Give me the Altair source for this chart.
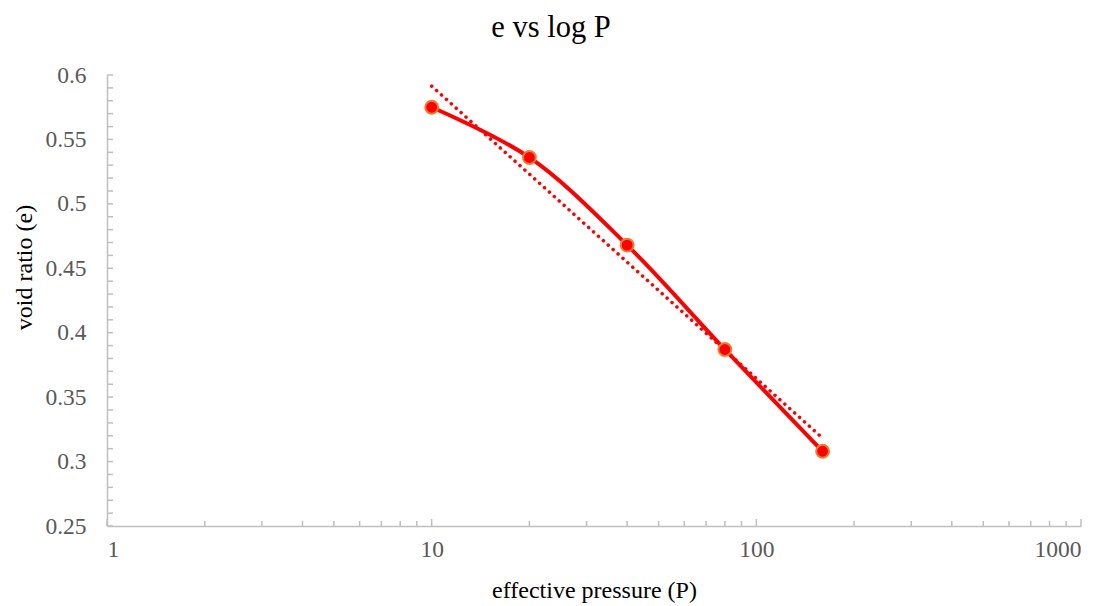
import altair as alt
import pandas as pd

# data
pressure = [10, 20, 40, 80, 160]
void_ratio = [0.575, 0.536, 0.468, 0.387, 0.308]

x_major = [1, 10, 100, 1000]
x_minor = [2, 3, 4, 5, 6, 7, 8, 9,
           20, 30, 40, 50, 60, 70, 80, 90,
           200, 300, 400, 500, 600, 700, 800, 900]
y_labels = [0.25, 0.3, 0.35, 0.4, 0.45, 0.5, 0.55, 0.6]
y_minor = [round(0.25 + 0.01 * i, 2) for i in range(36)]

df = pd.DataFrame({"P": pressure, "e": void_ratio})
xmaj_df = pd.DataFrame({"P": x_major})
xmin_df = pd.DataFrame({"P": x_minor})
ymin_df = pd.DataFrame({"e": y_minor})

FONT = "Liberation Serif"
GRAY = "#BFBFBF"
W, H = 974, 451

xscale = alt.Scale(type="log", domain=[1, 1000], nice=False)
yscale = alt.Scale(domain=[0.25, 0.6], nice=False, zero=False)

x_enc = alt.X(
    "P:Q", scale=xscale,
    axis=alt.Axis(
        title="effective pressure (P)", values=x_major, format="~g",
        ticks=False, grid=False, domainColor=GRAY, domainWidth=1.5,
        labelFont=FONT, labelFontSize=23.5, labelColor="#595959", labelPadding=11,
        titleFont=FONT, titleFontSize=24, titleFontWeight="normal", titleColor="#000000",
        titleY=71, titleBaseline="alphabetic",
    ),
)
y_enc = alt.Y(
    "e:Q", scale=yscale,
    axis=alt.Axis(
        title="void ratio (e)", values=y_labels, format="~g",
        ticks=False, grid=False, domainColor=GRAY, domainWidth=1.5,
        labelFont=FONT, labelFontSize=23.5, labelColor="#595959", labelPadding=21,
        titleFont=FONT, titleFontSize=24, titleFontWeight="normal", titleColor="#000000",
        titleAngle=-90, titleX=-76, titleY=192, titleAlign="center", titleBaseline="alphabetic",
    ),
)

base = alt.Chart(df)

trend = base.transform_regression(
    "P", "e", method="log"
).mark_line(
    color="#FF0000", strokeWidth=3.5, strokeDash=[0.1, 6.5], strokeCap="round"
).encode(x=x_enc, y=y_enc)

line = base.mark_line(
    color="#FF0000", strokeWidth=4, interpolate="catmull-rom"
).encode(x=x_enc, y=y_enc)

points = base.mark_point(
    filled=True, fill="#FF0000", stroke="#ED7D31", strokeWidth=2,
    size=165, opacity=1,
).encode(x=x_enc, y=y_enc)

xmaj_ticks = alt.Chart(xmaj_df).mark_rule(color=GRAY, strokeWidth=1.5).encode(
    x=x_enc, y=alt.value(H), y2=alt.value(H - 7),
)
xmin_ticks = alt.Chart(xmin_df).mark_rule(color=GRAY, strokeWidth=1.5).encode(
    x=x_enc, y=alt.value(H), y2=alt.value(H - 5),
)
ymin_ticks = alt.Chart(ymin_df).mark_rule(color=GRAY, strokeWidth=1.5).encode(
    y=y_enc, x=alt.value(0), x2=alt.value(6),
)

chart = alt.layer(
    line, xmaj_ticks, xmin_ticks, ymin_ticks, trend, points
).properties(
    width=W, height=H,
    background="#FFFFFF",
    title=alt.TitleParams(
        "e vs log P", font=FONT, fontSize=30.5, fontWeight="normal", color="#000000",
        anchor="middle", dx=-43, offset=20,
    ),
    autosize=alt.AutoSizeParams(type="none"),
    padding={"left": 107, "top": 75, "right": 33, "bottom": 80},
).configure_view(stroke=None, strokeWidth=0)

chart.save("out.html", embed_options={"renderer": "svg", "actions": False})
